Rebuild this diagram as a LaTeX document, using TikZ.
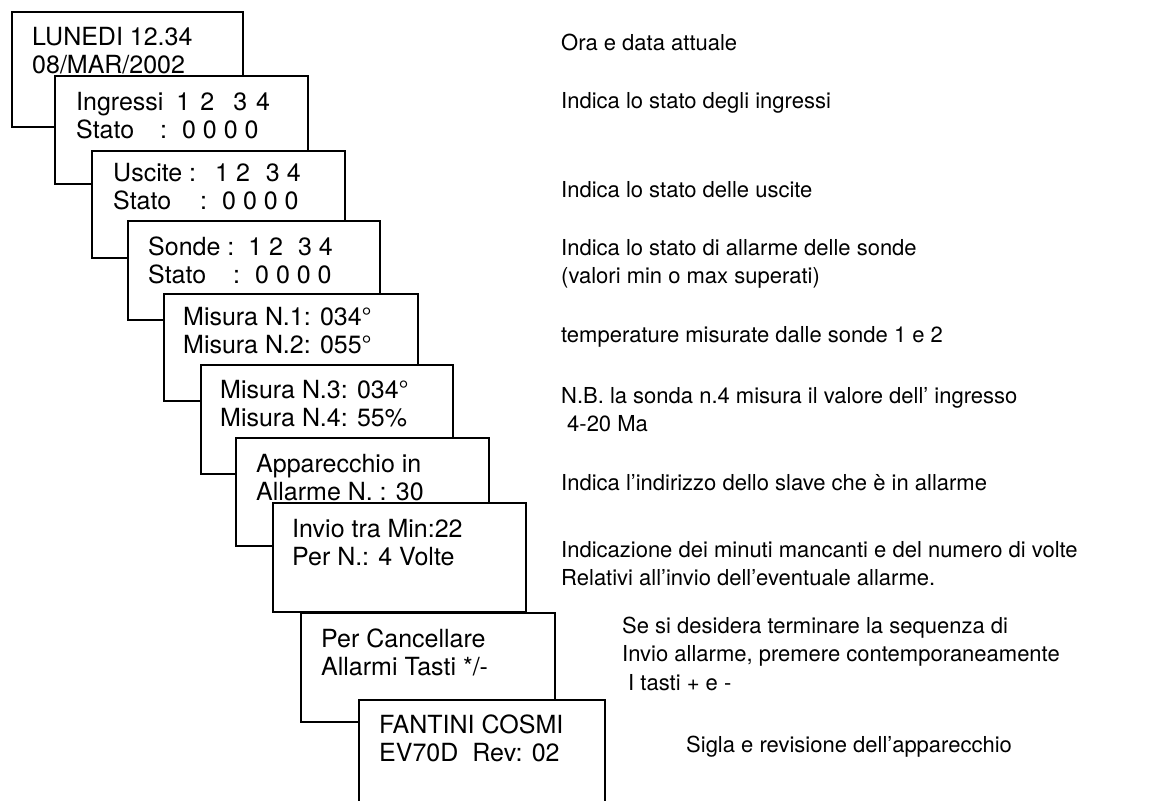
\documentclass[tikz,border=0pt]{standalone}
\usepackage{fontspec}
\setmainfont{TeX Gyre Heros}
\usepackage{tikz}

\begin{document}
\begin{tikzpicture}[x=1pt, y=-1pt,
    screen/.style={draw, fill=white, line width=1.5pt, inner sep=0pt, anchor=north west},
    lcd/.style={anchor=base west, align=left, inner sep=0pt, font=\fontsize{25}{28.5}\selectfont},
    txt/.style={anchor=base west, align=left, inner sep=0pt, font=\fontsize{22}{28.5}\selectfont}]

    \clip (0,0) rectangle (1163,801);

    \node[screen, minimum width=231, minimum height=115] (lun) at (11,11) {};
    \node[lcd] (lunt) at (32,73.5) {LUNEDI 12.34\\08/MAR/2002};
    \node[screen, minimum width=253, minimum height=108] (ing) at (54,75) {};
    \node[lcd] (ingt) at (76,138.5) {Ingressi\hspace{13pt}1\hspace{10pt}2\hspace{19pt}3\hspace{9pt}4\\Stato\hspace{26pt}:\hspace{15pt}0 0 0 0};
    \node[screen, minimum width=253, minimum height=107] (usc) at (91,150) {};
    \node[lcd] (usct) at (113,209.5) {Uscite :\hspace{19pt}1 2\hspace{16pt}3 4\\Stato\hspace{29pt}:\hspace{15pt}0 0 0 0};
    \node[screen, minimum width=252, minimum height=99] (son) at (127,220) {};
    \node[lcd] (sont) at (148,283.5) {Sonde :\hspace{14pt}1 2\hspace{15pt}3 4\\Stato\hspace{27pt}:\hspace{15pt}0 0 0 0};
    \node[screen, minimum width=254, minimum height=107] (mis1) at (163,293) {};
    \node[lcd] (mis1t) at (183,353.5) {Misura N.1: 034°\\Misura N.2: 055°};
    \node[screen, minimum width=252, minimum height=109] (mis3) at (200,364) {};
    \node[lcd] (mis3t) at (220,426.5) {Misura N.3: 034°\\Misura N.4: 55\%};
    \node[screen, minimum width=253, minimum height=108] (app) at (235,437) {};
    \node[lcd] (appt) at (256,500.5) {Apparecchio in\\Allarme N. : 30};
    \node[screen, minimum width=253, minimum height=109] (inv) at (272,502) {};
    \node[lcd] (invt) at (292,565.5) {Invio tra Min:22\\Per N.: 4 Volte};
    \node[screen, minimum width=254, minimum height=109] (canc) at (300,612) {};
    \node[lcd] (canct) at (321,675.5) {Per Cancellare\\Allarmi Tasti */-};
    \node[screen, minimum width=246, minimum height=120] (fant) at (358,699) {};
    \node[lcd] (fantt) at (379,761.5) {FANTINI COSMI\\EV70D\hspace{14pt}Rev: 02};

    \node[txt] (d1) at (561,50) {Ora e data attuale};
    \node[txt] (d2) at (561,108) {Indica lo stato degli ingressi};
    \node[txt] (d3) at (561,197) {Indica lo stato delle uscite};
    \node[txt] (d4) at (561,283.5) {Indica lo stato di allarme delle sonde\\(valori min o max superati)};
    \node[txt] (d5) at (561,342) {temperature misurate dalle sonde 1 e 2};
    \node[txt] (d6) at (561,431.5) {N.B. la sonda n.4 misura il valore dell’ ingresso\\\hspace{6pt}4-20 Ma};
    \node[txt] (d7) at (561,490) {Indica l’indirizzo dello slave che è in allarme};
    \node[txt] (d8) at (561,585.5) {Indicazione dei minuti mancanti e del numero di volte\\Relativi all’invio dell’eventuale allarme.};
    \node[txt] (d9) at (622,690) {Se si desidera terminare la sequenza di\\Invio allarme, premere contemporaneamente\\\hspace{6pt}I tasti + e -};
    \node[txt] (d10) at (686,752) {Sigla e revisione dell’apparecchio};

\end{tikzpicture}
\end{document}
